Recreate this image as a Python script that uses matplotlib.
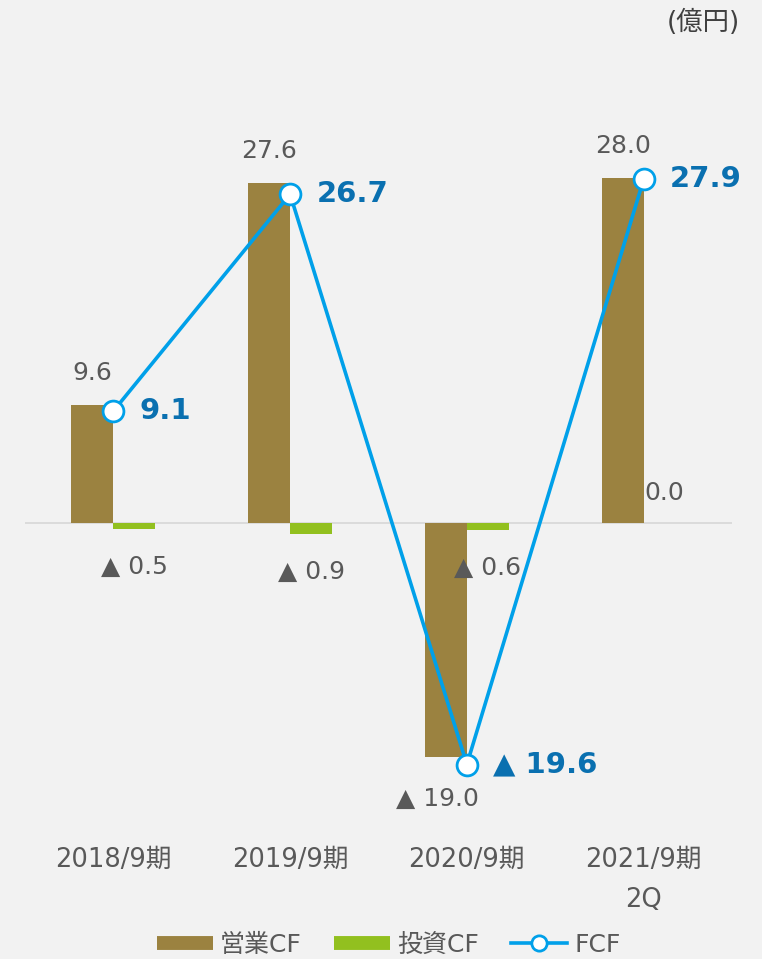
import matplotlib
matplotlib.use("Agg")
import matplotlib.pyplot as plt
from matplotlib.lines import Line2D
import numpy as np

plt.rcParams['font.family'] = ['DejaVu Sans', 'Noto Sans CJK JP']

# データ(億円)
periods = ['2018/9期', '2019/9期', '2020/9期', '2021/9期\n2Q']
eigyo_cf = [9.6, 27.6, -19.0, 28.0]
toshi_cf = [-0.5, -0.9, -0.6, 0.0]
fcf = [9.1, 26.7, -19.6, 27.9]

c_eigyo = '#9B8240'
c_toshi = '#92C01F'
c_fcf = '#00A0E9'
c_lbl = '#0A70B0'
c_txt = '#595959'
bg = '#F2F2F2'


def fmt(v):
    return '▲ %.1f' % abs(v) if v < 0 else '%.1f' % v


fig = plt.figure(figsize=(7.62, 9.59), dpi=100, facecolor=bg)
ax = fig.add_axes([0.0328, 0.1463, 0.9278, 0.7192])
ax.set_facecolor(bg)

x = np.arange(len(periods))
w = 0.237

ax.bar(x - w / 2, eigyo_cf, width=w, color=c_eigyo, zorder=2)
ax.bar(x + w / 2, toshi_cf, width=w, color=c_toshi, zorder=2)
ax.axhline(0, color='#D9D9D9', lw=1.3, zorder=1)
ax.plot(x, fcf, color=c_fcf, lw=2.6, marker='o', ms=15, mfc='white',
        mec=c_fcf, mew=2, zorder=3)

fs = 18

# 営業CFラベル
for xi, v in zip(x, eigyo_cf):
    if v >= 0:
        ax.annotate(fmt(v), (xi - w / 2, v), xytext=(0, 23), textcoords='offset points',
                    ha='center', va='center', fontsize=fs, color=c_txt)
    else:
        ax.annotate(fmt(v), (xi - w / 2 - 0.05, v), xytext=(0, -30), textcoords='offset points',
                    ha='center', va='center', fontsize=fs, color=c_txt)

# 投資CFラベル
for xi, v in zip(x, toshi_cf):
    if v >= 0:
        ax.annotate(fmt(v), (xi + w / 2, v), xytext=(0, 22), textcoords='offset points',
                    ha='center', va='center', fontsize=fs, color=c_txt)
    else:
        ax.annotate(fmt(v), (xi + w / 2, v), xytext=(0, -27), textcoords='offset points',
                    ha='center', va='center', fontsize=fs, color=c_txt)

# FCFラベル
for xi, v in zip(x, fcf):
    ax.annotate(fmt(v), (xi, v), xytext=(19, 0), textcoords='offset points',
                ha='left', va='center', fontsize=21, fontweight='bold', color=c_lbl)

ax.set_xlim(-0.5, 3.5)
ax.set_ylim(-24, 32)
ax.set_yticks([])
ax.set_xticks(x)
ax.set_xticklabels(periods, fontsize=18.5, color=c_txt, linespacing=1.75, va='top')
ax.tick_params(axis='x', length=0, pad=20)
for s in ax.spines.values():
    s.set_visible(False)

fig.text(740 / 762, 1 - 23 / 959, '(億円)', ha='right', va='center', fontsize=19, color='#404040')

handles = [
    Line2D([], [], color=c_eigyo, lw=10, solid_capstyle='butt'),
    Line2D([], [], color=c_toshi, lw=10, solid_capstyle='butt'),
    Line2D([], [], color=c_fcf, lw=2.6, marker='o', ms=11, mfc='white', mec=c_fcf, mew=2),
]
leg = fig.legend(handles, ['営業CF', '投資CF', 'FCF'], loc='center', bbox_to_anchor=(0.51, 1 - 945 / 959),
                 ncol=3, frameon=False, fontsize=18, handlelength=2.25, handletextpad=0.28,
                 columnspacing=1.28, labelcolor=c_txt)

fig.savefig('out.png', dpi=100, facecolor=bg)
